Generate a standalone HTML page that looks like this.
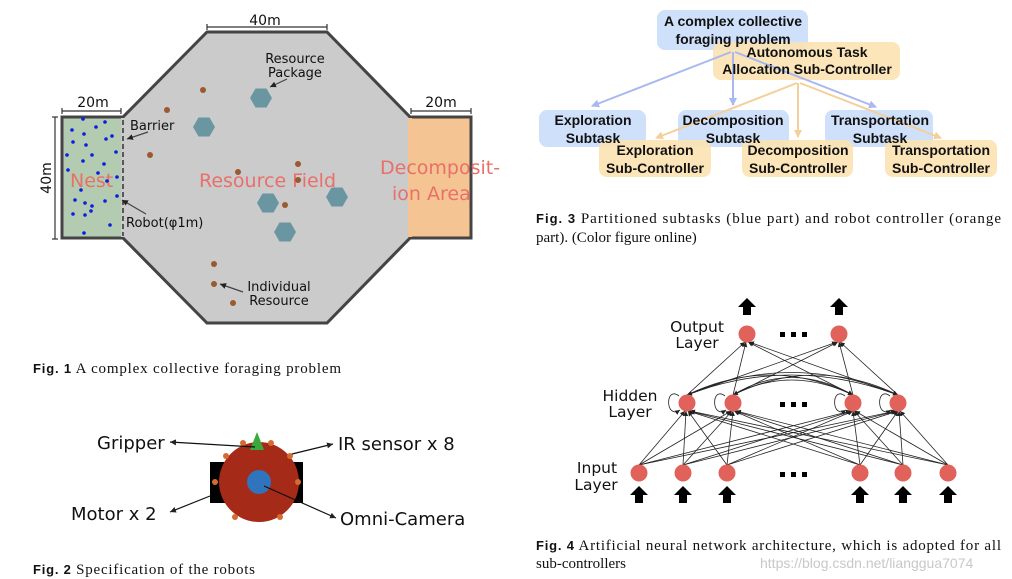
<!DOCTYPE html>
<html><head><meta charset="utf-8"><style>
html,body{margin:0;padding:0;background:#fff;}
svg{display:block;}
.cap{font-family:"Liberation Serif",serif;font-size:15px;fill:#111;}
.fb{font-family:"Liberation Sans",sans-serif;font-weight:bold;font-size:13px;fill:#111;}
.bx{font-family:"Liberation Sans",sans-serif;font-weight:bold;font-size:14px;fill:#111;}
.lb{font-family:"DejaVu Sans",sans-serif;font-size:14px;fill:#111;}
.big{font-size:18px;}
.nn{font-size:15.5px;}
</style></head><body>
<svg width="1012" height="579" viewBox="0 0 1012 579" xmlns="http://www.w3.org/2000/svg">
<defs>
<marker id="ab" markerWidth="8" markerHeight="8" refX="7" refY="4" orient="auto" markerUnits="userSpaceOnUse"><path d="M0,0 L8,4 L0,8z" fill="#a8b8f0"/></marker>
<marker id="ao" markerWidth="8" markerHeight="8" refX="7" refY="4" orient="auto" markerUnits="userSpaceOnUse"><path d="M0,0 L8,4 L0,8z" fill="#f5cf9a"/></marker>
<marker id="ak" markerWidth="6" markerHeight="6" refX="6" refY="3" orient="auto" markerUnits="userSpaceOnUse"><path d="M0,0 L6,3 L0,6z" fill="#222"/></marker>
<marker id="an" markerWidth="5" markerHeight="5" refX="5" refY="2.5" orient="auto" markerUnits="userSpaceOnUse"><path d="M0,0 L5,2.5 L0,5z" fill="#222"/></marker>
<polygon id="hex" points="11,0 5.5,9.5 -5.5,9.5 -11,0 -5.5,-9.5 5.5,-9.5" fill="#6a96a2"/>
</defs>

<!-- FIG 1 -->
<polygon points="207,32 327,32 410,117 410,238 327,323 207,323 123,238 123,117" fill="#cbcbcb" stroke="#444" stroke-width="3"/>
<rect x="62" y="117" width="61" height="121" fill="#b3cbb0" stroke="#444" stroke-width="3"/>
<rect x="410" y="117" width="61" height="121" fill="#f5c493" stroke="#444" stroke-width="3"/>
<rect x="121" y="118" width="4" height="119" fill="#cbcbcb"/>
<rect x="408" y="118" width="4" height="119" fill="#f5c493"/>
<line x1="123" y1="120" x2="123" y2="236" stroke="#333" stroke-width="1.5" stroke-dasharray="5,3"/>
<g stroke="#333" stroke-width="1.2">
<line x1="207" y1="27" x2="327" y2="27"/><line x1="207" y1="24" x2="207" y2="30"/><line x1="327" y1="24" x2="327" y2="30"/>
<line x1="62" y1="111" x2="121" y2="111"/><line x1="62" y1="108" x2="62" y2="114"/><line x1="121" y1="108" x2="121" y2="114"/>
<line x1="411" y1="111" x2="471" y2="111"/><line x1="411" y1="108" x2="411" y2="114"/><line x1="471" y1="108" x2="471" y2="114"/>
<line x1="55" y1="117" x2="55" y2="239"/><line x1="52" y1="117" x2="58" y2="117"/><line x1="52" y1="239" x2="58" y2="239"/>
</g>
<g class="lb"><text x="265" y="25" text-anchor="middle">40m</text>
<text x="93" y="107" text-anchor="middle">20m</text>
<text x="441" y="107" text-anchor="middle">20m</text>
<text transform="translate(51,178) rotate(-90)" text-anchor="middle">40m</text>
<text x="130" y="130" font-size="13">Barrier</text>
<text x="126" y="227" font-size="13">Robot(φ1m)</text>
<text x="295" y="63" text-anchor="middle" font-size="13">Resource</text>
<text x="295" y="77" text-anchor="middle" font-size="13">Package</text>
<text x="279" y="291" text-anchor="middle" font-size="13">Individual</text>
<text x="279" y="305" text-anchor="middle" font-size="13">Resource</text></g>
<g font-family="DejaVu Sans,sans-serif" font-size="19" fill="#e8706a">
<text x="70" y="187">Nest</text>
<text x="199" y="187">Resource Field</text>
<text x="380" y="174">Decomposit-</text>
<text x="392" y="200">ion Area</text></g>
<g fill="#0a1ee0">
<circle cx="83" cy="119" r="1.8"/><circle cx="105" cy="122" r="1.8"/><circle cx="72" cy="130" r="1.8"/><circle cx="96" cy="127" r="1.8"/><circle cx="84" cy="134" r="1.8"/><circle cx="112" cy="136" r="1.8"/><circle cx="73" cy="142" r="1.8"/><circle cx="86" cy="145" r="1.8"/><circle cx="106" cy="139" r="1.8"/><circle cx="67" cy="155" r="1.8"/><circle cx="92" cy="155" r="1.8"/><circle cx="116" cy="152" r="1.8"/><circle cx="83" cy="161" r="1.8"/><circle cx="104" cy="164" r="1.8"/><circle cx="68" cy="170" r="1.8"/><circle cx="98" cy="173" r="1.8"/><circle cx="117" cy="177" r="1.8"/><circle cx="107" cy="181" r="1.8"/><circle cx="81" cy="190" r="1.8"/><circle cx="117" cy="196" r="1.8"/><circle cx="75" cy="200" r="1.8"/><circle cx="85" cy="203" r="1.8"/><circle cx="105" cy="201" r="1.8"/><circle cx="92" cy="206" r="1.8"/><circle cx="91" cy="211" r="1.8"/><circle cx="73" cy="214" r="1.8"/><circle cx="85" cy="215" r="1.8"/><circle cx="110" cy="225" r="1.8"/><circle cx="84" cy="233" r="1.8"/></g>
<g fill="#9a5a30">
<circle cx="203" cy="90" r="3"/><circle cx="167" cy="110" r="3"/><circle cx="150" cy="155" r="3"/><circle cx="238" cy="172" r="3"/><circle cx="298" cy="164" r="3"/><circle cx="298" cy="180" r="3"/><circle cx="285" cy="205" r="3"/><circle cx="214" cy="264" r="3"/><circle cx="214" cy="284" r="3"/><circle cx="233" cy="303" r="3"/></g>
<use href="#hex" x="261" y="98"/><use href="#hex" x="204" y="127"/><use href="#hex" x="268" y="203"/><use href="#hex" x="337" y="197"/><use href="#hex" x="285" y="232"/>
<g stroke="#444" stroke-width="1.2"><line x1="148" y1="132" x2="127" y2="139" marker-end="url(#ak)"/>
<line x1="146" y1="214" x2="122" y2="200" marker-end="url(#ak)"/>
<line x1="287" y1="79" x2="270" y2="87" marker-end="url(#ak)"/>
<line x1="243" y1="292" x2="220" y2="284" marker-end="url(#ak)"/></g>
<text x="33" y="373" class="cap" textLength="308" lengthAdjust="spacing"><tspan class="fb">Fig. 1</tspan>   A complex collective foraging problem</text>

<!-- FIG 2 -->
<rect x="210" y="462" width="93" height="41" fill="#000"/>
<circle cx="259" cy="482" r="40" fill="#a62a18"/>
<circle cx="259" cy="482" r="12" fill="#2f74bc"/>
<polygon points="257,432 250,450 264,450" fill="#3aa83a"/>
<g fill="#d66b30"><circle cx="243" cy="443" r="3"/><circle cx="271" cy="443" r="3"/><circle cx="226" cy="456" r="3"/><circle cx="290" cy="456" r="3"/><circle cx="215" cy="482" r="3"/><circle cx="298" cy="482" r="3"/><circle cx="235" cy="517" r="3"/><circle cx="280" cy="517" r="3"/></g>
<g stroke="#111" stroke-width="1.2"><line x1="255" y1="447" x2="170" y2="442" marker-end="url(#ak)"/>
<line x1="292" y1="454" x2="333" y2="444" marker-end="url(#ak)"/>
<line x1="210" y1="496" x2="170" y2="512" marker-end="url(#ak)"/>
<line x1="264" y1="486" x2="336" y2="518" marker-end="url(#ak)"/></g>
<g class="lb big"><text x="97" y="449">Gripper</text><text x="338" y="450">IR sensor x 8</text>
<text x="71" y="520">Motor x 2</text><text x="340" y="525">Omni-Camera</text></g>
<text x="33" y="574" class="cap" textLength="222" lengthAdjust="spacing"><tspan class="fb">Fig. 2</tspan>   Specification of the robots</text>

<!-- FIG 3 -->
<rect x="657" y="10" width="151" height="40" rx="8" fill="#cfe0fa"/>
<rect x="713" y="42" width="187" height="38" rx="8" fill="#fbe3b3" opacity="0.92"/>
<rect x="539" y="110" width="107" height="37" rx="8" fill="#cfe0fa"/>
<rect x="678" y="110" width="111" height="37" rx="8" fill="#cfe0fa"/>
<rect x="825" y="110" width="108" height="37" rx="8" fill="#cfe0fa"/>
<rect x="599" y="140" width="112" height="37" rx="8" fill="#fbe3b3" opacity="0.92"/>
<rect x="742" y="140" width="111" height="37" rx="8" fill="#fbe3b3" opacity="0.92"/>
<rect x="885" y="140" width="112" height="37" rx="8" fill="#fbe3b3" opacity="0.92"/>
<g stroke="#a8b8f0" stroke-width="2" fill="none">
<line x1="731" y1="52" x2="592" y2="106" marker-end="url(#ab)"/>
<line x1="733" y1="52" x2="733" y2="105" marker-end="url(#ab)"/>
<line x1="735" y1="52" x2="876" y2="107" marker-end="url(#ab)"/></g>
<g stroke="#f5cf9a" stroke-width="2" fill="none">
<line x1="797" y1="83" x2="656" y2="138" marker-end="url(#ao)"/>
<line x1="798" y1="83" x2="798" y2="137" marker-end="url(#ao)"/>
<line x1="800" y1="83" x2="941" y2="138" marker-end="url(#ao)"/></g>
<g class="bx" text-anchor="middle">
<text x="733" y="26">A complex collective</text><text x="733" y="44">foraging problem</text>
<text x="807" y="57">Autonomous Task</text><text x="807" y="74">Allocation Sub-Controller</text>
<text x="593" y="125">Exploration</text><text x="593" y="143">Subtask</text>
<text x="733" y="125">Decomposition</text><text x="733" y="143">Subtask</text>
<text x="880" y="125">Transportation</text><text x="880" y="143">Subtask</text>
<text x="655" y="155">Exploration</text><text x="655" y="173">Sub-Controller</text>
<text x="798" y="155">Decomposition</text><text x="798" y="173">Sub-Controller</text>
<text x="941" y="155">Transportation</text><text x="941" y="173">Sub-Controller</text></g>
<text x="536" y="223" class="cap" textLength="465" lengthAdjust="spacing"><tspan class="fb">Fig. 3</tspan>   Partitioned subtasks (blue part) and robot controller (orange</text>
<text x="536" y="242" class="cap">part). (Color figure online)</text>

<!-- FIG 4 -->
<g stroke="#222" stroke-width="0.8" fill="none" marker-end="url(#an)">
<line x1="639" y1="465" x2="685" y2="411"/><line x1="639" y1="465" x2="731" y2="411"/><line x1="639" y1="465" x2="851" y2="411"/><line x1="639" y1="465" x2="896" y2="411"/>
<line x1="683" y1="465" x2="686" y2="411"/><line x1="683" y1="465" x2="732" y2="411"/><line x1="683" y1="465" x2="852" y2="411"/><line x1="683" y1="465" x2="897" y2="411"/>
<line x1="727" y1="465" x2="688" y2="411"/><line x1="727" y1="465" x2="733" y2="411"/><line x1="727" y1="465" x2="853" y2="411"/><line x1="727" y1="465" x2="898" y2="411"/>
<line x1="860" y1="465" x2="688" y2="411"/><line x1="860" y1="465" x2="734" y2="411"/><line x1="860" y1="465" x2="853" y2="411"/><line x1="860" y1="465" x2="898" y2="411"/>
<line x1="903" y1="465" x2="689" y2="411"/><line x1="903" y1="465" x2="735" y2="411"/><line x1="903" y1="465" x2="854" y2="411"/><line x1="903" y1="465" x2="899" y2="411"/>
<line x1="948" y1="465" x2="690" y2="411"/><line x1="948" y1="465" x2="736" y2="411"/><line x1="948" y1="465" x2="855" y2="411"/><line x1="948" y1="465" x2="900" y2="411"/>
<line x1="687" y1="395" x2="745" y2="342"/><line x1="687" y1="395" x2="837" y2="342"/>
<line x1="733" y1="395" x2="746" y2="342"/><line x1="733" y1="395" x2="838" y2="342"/>
<line x1="853" y1="395" x2="748" y2="342"/><line x1="853" y1="395" x2="839" y2="342"/>
<line x1="898" y1="395" x2="749" y2="342"/><line x1="898" y1="395" x2="840" y2="342"/>
<path d="M687,395 Q790,350 898,395"/><path d="M733,395 Q790,360 853,395"/><path d="M687,395 Q770,355 853,395"/><path d="M733,395 Q815,355 898,395"/>
<path d="M898,395 Q790,355 687,395"/><path d="M853,395 Q790,365 733,395"/>
<path d="M679,396 C665,385 665,420 680,410"/><path d="M725,396 C711,385 711,420 726,410"/>
<path d="M845,396 C831,385 831,420 846,410"/><path d="M890,396 C876,385 876,420 891,410"/>
</g>
<g fill="#e0625a"><circle cx="747" cy="334" r="8.5"/><circle cx="839" cy="334" r="8.5"/>
<circle cx="687" cy="403" r="8.5"/><circle cx="733" cy="403" r="8.5"/><circle cx="853" cy="403" r="8.5"/><circle cx="898" cy="403" r="8.5"/>
<circle cx="639" cy="473" r="8.5"/><circle cx="683" cy="473" r="8.5"/><circle cx="727" cy="473" r="8.5"/><circle cx="860" cy="473" r="8.5"/><circle cx="903" cy="473" r="8.5"/><circle cx="948" cy="473" r="8.5"/></g>
<g fill="#000">
<polygon points="747,298 738,307 743,307 743,315 751,315 751,307 756,307"/>
<polygon points="839,298 830,307 835,307 835,315 843,315 843,307 848,307"/>
<polygon points="639,486 630,495 635,495 635,503 643,503 643,495 648,495"/>
<polygon points="683,486 674,495 679,495 679,503 687,503 687,495 692,495"/>
<polygon points="727,486 718,495 723,495 723,503 731,503 731,495 736,495"/>
<polygon points="860,486 851,495 856,495 856,503 864,503 864,495 869,495"/>
<polygon points="903,486 894,495 899,495 899,503 907,503 907,495 912,495"/>
<polygon points="948,486 939,495 944,495 944,503 952,503 952,495 957,495"/>
<rect x="780" y="332" width="5" height="5"/><rect x="791" y="332" width="5" height="5"/><rect x="802" y="332" width="5" height="5"/>
<rect x="780" y="402" width="5" height="5"/><rect x="791" y="402" width="5" height="5"/><rect x="802" y="402" width="5" height="5"/>
<rect x="780" y="472" width="5" height="5"/><rect x="791" y="472" width="5" height="5"/><rect x="802" y="472" width="5" height="5"/></g>
<g class="lb nn" text-anchor="middle"><text x="697" y="332">Output</text><text x="697" y="348">Layer</text>
<text x="630" y="401">Hidden</text><text x="630" y="417">Layer</text>
<text x="597" y="473">Input</text><text x="596" y="490">Layer</text></g>
<text x="536" y="550" class="cap" textLength="465" lengthAdjust="spacing"><tspan class="fb">Fig. 4</tspan>   Artificial neural network architecture, which is adopted for all</text>
<text x="536" y="568" class="cap">sub-controllers</text>
<text x="760" y="568" font-family="Liberation Sans,sans-serif" font-size="14" fill="#c8c8c8">https://blog.csdn.net/lianggua7074</text>
</svg>
</body></html>
